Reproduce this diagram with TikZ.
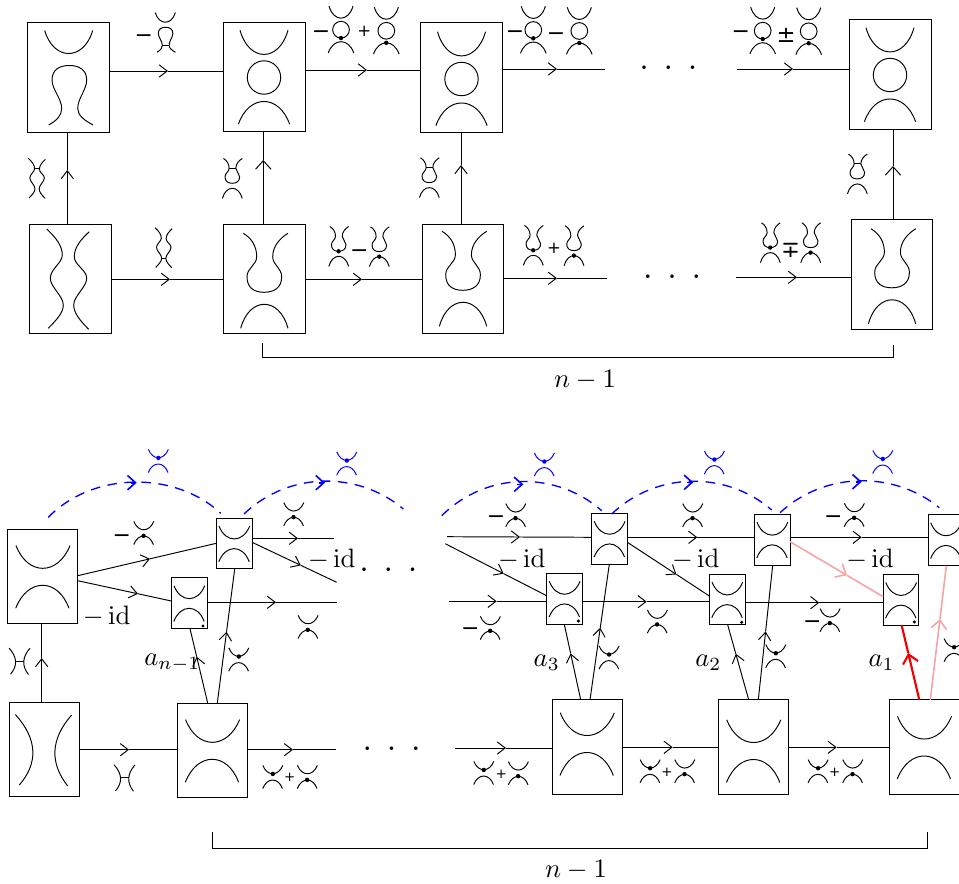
\documentclass[tikz,border=0pt]{standalone}
\usepackage{amsmath}
\usepackage[no-math]{fontspec}
\newfontfamily\glyphfont{DejaVu Sans}
\usetikzlibrary{arrows.meta,calc}
\newcommand\shpA{\draw (-24,-47) .. controls (-15,-16.3) and (15,-16.3) .. (24,-47);
  \draw (-20,47.5) .. controls (-12,43) and (-7,38) .. (-7,31) .. controls (-7,21) and (-16.7,12) .. (-16.7,2.5) .. controls (-16.7,-8) and (-9,-12) .. (0.6,-12) .. controls (10,-12) and (18,-8) .. (18,2.5) .. controls (18,12) and (9,21) .. (9,31) .. controls (9,38) and (16,43) .. (24.3,47.5);}
\newcommand\shpB{\draw (-24,-47.3) .. controls (-15,-15) and (15,-15) .. (24,-47.3);
  \draw (0,0) circle[radius=16.7];
  \draw (-25.6,46.7) .. controls (-15,16.4) and (15,16.4) .. (25.6,46.7);}
\newcommand\shpC{\draw (-21.6,-50) .. controls (-12,-41) and (-6,-33) .. (-6,-24) .. controls (-6,-16) and (-18,-10) .. (-18,-0.7) .. controls (-18,8) and (-5,17) .. (-5,26) .. controls (-5,34) and (-12,41) .. (-20,49.3);
  \draw (21,-47.3) .. controls (13,-40) and (6,-32) .. (6,-22.3) .. controls (6,-14) and (18.4,-9) .. (18.4,-0.7) .. controls (18.4,8) and (5.4,17) .. (5.4,26) .. controls (5.4,34) and (12,42) .. (20.4,50.3);}
\newcommand\shpD{\draw (-21,-45.7) .. controls (-13,-41) and (-7.6,-33) .. (-7.6,-22.3) .. controls (-7.6,-14) and (-17.3,-11) .. (-17.3,-2.3) .. controls (-17.3,9) and (-10,13.3) .. (-0.3,13.3) .. controls (9.5,13.3) and (17.4,9) .. (17.4,-2.3) .. controls (17.4,-11) and (8.4,-14) .. (8.4,-22.3) .. controls (8.4,-33) and (16,-41) .. (23.7,-45.7);
  \draw (-23.6,49.3) .. controls (-15,17.3) and (15,17.3) .. (23.7,49.3);}
\newcommand\shpE{\draw (-26.7,-30.7) .. controls (-15,-0.4) and (15,-0.4) .. (27.3,-30.7);
  \draw (-27,32) .. controls (-15,1.3) and (15,1.3) .. (26.3,32);}
\newcommand\shpF{\draw (-28.7,-35) .. controls (-6,-10) and (-6,14) .. (-24.7,35.5);
  \draw (27.7,-34.5) .. controls (6,-10) and (6,14) .. (23.7,36.5);}
\newcommand\mns{\raisebox{-.313em}[0pt][0pt]{\glyphfont\fontsize{8.2}{10}\selectfont −}}
\tikzset{
  gA/.pic={\shpA}, gB/.pic={\shpB}, gC/.pic={\shpC}, gD/.pic={\shpD}, gE/.pic={\shpE}, gF/.pic={\shpF},
  gAb/.pic={\shpA \draw (-7,31) -- (9,31);},
  gBc/.pic={\shpB \fill (0,16.7) circle[radius=4.4];},
  gBk/.pic={\shpB \fill (0,24) circle[radius=4.4];},
  gCu/.pic={\shpC \draw (-6,-24) -- (6,-24);},
  gCl/.pic={\shpC \draw (-5,26) -- (5.4,26);},
  gDb/.pic={\shpD \draw (-7.6,-22.3) -- (8.4,-22.3);},
  gDf/.pic={\shpD \fill (-0.3,13.3) circle[radius=5.2];},
  gDk/.pic={\shpD \fill (-0.3,25.3) circle[radius=5.2];},
  gEu/.pic={\shpE \fill (0.3,-7.5) circle[radius=6];},
  gEd/.pic={\shpE \fill (-0.5,8.5) circle[radius=6];},
  gFb/.pic={\shpF \draw (-11,0) -- (11,0);},
  bigbox/.style={draw,rectangle,inner sep=0pt,outer sep=0pt,minimum width=30.6pt,minimum height=41.2pt},
  midbox/.style={draw,rectangle,inner sep=0pt,outer sep=0pt,minimum width=26.25pt,minimum height=35.4pt},
  tinybox/.style={draw,rectangle,inner sep=0pt,outer sep=0pt,minimum width=13.4pt,minimum height=19.1pt},
  sgn/.style={inner sep=0pt},
  pmn/.style={inner sep=0pt,font=\glyphfont\fontsize{8.5}{10}\selectfont},
  pls/.style={inner sep=0pt,font=\glyphfont\fontsize{6.2}{7}\selectfont},
  plt/.style={inner sep=0pt,font=\glyphfont\fontsize{5}{6}\selectfont},
  txt/.style={inner sep=0pt},
  dts/.style={inner sep=0pt,anchor=base,font=\fontsize{8.5}{10}\selectfont\bfseries},
  >={Straight Barb[length=3pt,width=4.6pt]},
  bigtip/.style={>={Straight Barb[length=3.2pt,width=5.8pt]}},
  pinkline/.style={draw={rgb,255:red,245;green,165;blue,165},line width=.6pt,bigtip},
  redline/.style={draw={rgb,255:red,240;green,0;blue,0},line width=.8pt,bigtip},
  blueline/.style={blue,line width=.5pt,dash pattern=on 3.6pt off 2.8pt},
  bluetip/.style={blue,line width=.6pt,>={Straight Barb[length=3pt,width=5.4pt]}}
}
\newcommand\conn[4][]{%
  \path #2 coordinate (ca) #4 coordinate (cb);
  \coordinate (cm) at ($(ca)!(#3)!(cb)$);
  \draw[#1] (cm) -- (cb);
  \draw[#1,->] (ca) -- (cm);}
\newcommand\arc[3]{%
  \path ($#1+(45,0)$) coordinate (ka) ($#3+(-45,0)$) coordinate (kb);
  \draw[blueline] #1 .. controls (ka |- 0,471) and (kb |- 0,471) .. #3;
  \draw[bluetip,->] ($#2+(-6,0)$) -- #2;}
\newcommand\dotsrow[3]{\node[dts] (#1) at (#2,#3) {.\hspace{6.3pt}.\hspace{6.3pt}.};}
\begin{document}
\begin{tikzpicture}[x=0.375pt,y=-0.375pt,line width=.36pt]
\useasboundingbox (0,0) rectangle (959,884);
% ---------- upper figure
\node[bigbox] (A) at (68.7,77.5) {};
\node[bigbox] (B) at (264.3,77) {};
\node[bigbox] (C) at (461.5,77.5) {};
\node[bigbox] (D) at (890.5,74.5) {};
\node[bigbox] (E) at (70.2,279) {};
\node[bigbox] (F) at (264.3,279) {};
\node[bigbox] (G) at (463,279) {};
\node[bigbox] (H) at (892,274.5) {};
\pic at (A) {gA};
\pic at (264,77.5) {gB};
\pic at (461.5,79) {gB};
\pic at (890,75) {gB};
\pic at (68.3,279) {gC};
\pic at (F) {gD};
\pic at (463,277) {gD};
\pic at (892,274.5) {gD};
\coordinate (t1) at (605,69);
\coordinate (t2) at (737,69);
\coordinate (t3) at (607,278.3);
\coordinate (t4) at (736,277.3);
\conn{(A.east |- 0,71)}{168,71}{(B.west |- 0,71)}
\conn{(B.east |- 0,70)}{367,70}{(C.west |- 0,70)}
\conn{(C.east |- t1)}{557,69}{(t1)}
\conn{(t2)}{793,69}{(D.west |- t2)}
\conn{(E.east |- 0,279.3)}{170,279.3}{(F.west |- 0,279.3)}
\conn{(F.east |- 0,279.3)}{362,279.3}{(G.west |- 0,279.3)}
\conn{(G.east |- t3)}{557,278.3}{(t3)}
\conn{(t4)}{797,277.3}{(H.west |- t4)}
\conn{(E.north -| 67.3,0)}{67.3,170}{(A.south -| 67.3,0)}
\conn[bigtip]{(F.north -| 263.3,0)}{263.3,160}{(B.south -| 263.3,0)}
\conn{(G.north -| 461,0)}{461,165}{(C.south -| 461,0)}
\conn[bigtip]{(H.north -| 893,0)}{893,166}{(D.south -| 893,0)}
\coordinate (b1) at (262,343.3);
\coordinate (b2) at (893,345);
\draw (b1) -- (b1 |- 0,357.3) -- (b2 |- 0,357.3) -- (b2);
\node[txt] (n1) at (585,380) {$n-1$};
\dotsrow{d1}{668.3}{70}
\dotsrow{d2}{672}{279}
\node[sgn] (s1) at (143.7,34) {\mns};
\pic[scale=.42] at (165.3,32.3) {gAb};
\pic[scale=.4] at (37,178.3) {gCu};
\pic[scale=.4] at (163.7,247.7) {gCl};
\pic[scale=.42] at (232.3,177.7) {gDb};
\pic[scale=.42] at (429.3,177) {gDb};
\pic[scale=.42] at (857.3,173.3) {gDb};
\node[sgn] (s2) at (321,30.3) {\mns};
\pic[scale=.5] at (341,29.7) {gBc};
\node[pls] (s3) at (364.3,31.3) {+};
\pic[scale=.5] at (386.3,30.8) {gBk};
\node[sgn] (s4) at (515,30.3) {\mns};
\pic[scale=.5] at (533.3,30) {gBc};
\node[sgn] (s5) at (556,31.7) {\mns};
\pic[scale=.5] at (579.3,31) {gBk};
\node[sgn] (s6) at (740.7,30.3) {\mns};
\pic[scale=.5] at (762.7,30.7) {gBc};
\node[pmn] (s7) at (786,35) {±};
\pic[scale=.5] at (808.7,31.3) {gBk};
\pic[scale=.42] at (338.7,245.7) {gDf};
\node[sgn] (s8) at (359.3,249) {\mns};
\pic[scale=.42] at (379.3,246) {gDk};
\pic[scale=.42] at (533.3,244.7) {gDf};
\node[pls] (s9) at (554,248) {+};
\pic[scale=.42] at (574,245) {gDk};
\pic[scale=.42] at (770.3,242) {gDf};
\node[pmn] (s10) at (790.7,250) {∓};
\pic[scale=.42] at (810.7,242) {gDk};
% ---------- lower figure
\node[midbox] (P1) at (42.7,576.3) {};
\node[midbox] (P2) at (44,749.5) {};
\node[midbox] (Q1) at (212.3,750.3) {};
\node[midbox] (Q2) at (587,747) {};
\node[midbox] (Q3) at (753.5,747) {};
\node[midbox] (Q4) at (924.2,747) {};
\node[tinybox] (S1) at (234.2,543.5) {};
\node[tinybox] (S2) at (189.2,603.2) {};
\node[tinybox] (S3) at (609.5,538.8) {};
\node[tinybox] (S4) at (564.5,598.8) {};
\node[tinybox] (S5) at (772.2,539.7) {};
\node[tinybox] (S6) at (727.2,599.5) {};
\node[tinybox] (S7) at (946,540.3) {};
\node[tinybox] (S8) at (901,600) {};
\pic at (P1) {gE};
\pic at (P2) {gF};
\pic at (Q1) {gE};
\pic at (587,743.5) {gE};
\pic at (753.5,750.5) {gE};
\pic at (924.2,747) {gE};
\foreach \s in {S1,S2,S3,S4,S5,S6,S7,S8} {\pic[scale=.57] at (\s) {gE};}
\fill (203,626) circle[radius=1.7];
\fill (578.3,621) circle[radius=1.7];
\fill (741.7,622.3) circle[radius=1.7];
\fill (914.3,622) circle[radius=1.7];
\coordinate (f1) at (333.7,538.3);
\coordinate (f2) at (336.7,582.3);
\coordinate (f3) at (337,602.3);
\coordinate (f4) at (336,749.7);
\coordinate (f5) at (447,536.7);
\coordinate (f6) at (445.3,543.7);
\coordinate (f7) at (448.7,601.3);
\coordinate (f8) at (455,748);
\conn{(P2.north -| 41.7,0)}{41.7,658}{(P1.south -| 41.7,0)}
\conn{(P2.east |- f4)}{129,749.7}{(Q1.west |- f4)}
\conn{(P1.east |- 0,575.7)}{150,558.7}{(S1.west |- 0,543.3)}
\conn{(P1.east |- 0,580.7)}{138,593.7}{(S2.west |- 0,601)}
\conn{(S1.east |- f1)}{298,538.3}{(f1)}
\conn{(S1.east |- 0,542.3)}{301,565}{(f2)}
\conn{(S2.east |- f3)}{276,602.3}{(f3)}
\conn{(Q1.north -| 207.7,0)}{196.7,656.7}{(S2.south -| 190,0)}
\conn{(Q1.north -| 217.3,0)}{226.3,631.7}{(S1.south -| 234.7,0)}
\conn{(Q1.east |- f4)}{293,749.7}{(f4)}
\conn{(f5)}{520,537}{(S3.west |- 0,537.3)}
\conn{(f6)}{503.3,574.3}{(S4.west |- 0,595.7)}
\conn{(f7)}{496.7,601.3}{(S4.west |- f7)}
\conn{(S3.east |- 0,537.3)}{697.3,537.3}{(S5.west |- 0,537.3)}
\conn{(S3.east |- 0,542.3)}{676,575}{(S6.west |- 0,596)}
\conn{(S4.east |- 0,601.7)}{646.7,601.7}{(S6.west |- 0,601.7)}
\conn{(Q2.north -| 580.7,0)}{571,653.3}{(S4.south -| 564.3,0)}
\conn{(Q2.north -| 590,0)}{600,627.7}{(S3.south -| 609.3,0)}
\conn{(f8)}{506,748}{(Q2.west |- f8)}
\conn{(Q2.east |- 0,747.3)}{672.7,747.3}{(Q3.west |- 0,747.3)}
\conn{(Q3.east |- 0,747.3)}{836.7,747.3}{(Q4.west |- 0,747.3)}
\conn{(S5.east |- 0,537.3)}{861.7,537.3}{(S7.west |- 0,537.3)}
\conn[pinkline]{(S5.east |- 0,541.7)}{846.7,575.7}{(S8.west |- 0,596.7)}
\conn{(S6.east |- 0,602.7)}{819.3,602.7}{(S8.west |- 0,602.7)}
\conn{(Q3.north -| 748.7,0)}{737.7,653.3}{(S6.south -| 727.7,0)}
\conn{(Q3.north -| 758.3,0)}{767.3,631.7}{(S5.south -| 772.7,0)}
\conn[redline]{(Q4.north -| 919.3,0)}{906.7,653.3}{(S8.south -| 901.7,0)}
\conn[pinkline]{(Q4.north -| 930.3,0)}{940,619}{(S7.south -| 946.3,0)}
% dashed arcs
\coordinate (c1) at (48.3,517.3);
\coordinate (c2) at (220.7,513.3);
\coordinate (c3) at (244,514);
\coordinate (c4) at (403.3,509);
\coordinate (c5) at (441.7,515.7);
\coordinate (c6) at (601.7,510.7);
\coordinate (c7) at (611.7,514);
\coordinate (c8) at (771.7,510);
\coordinate (c9) at (780,512.7);
\coordinate (c10) at (939.3,507.7);
\arc{(c1)}{(136.7,482.7)}{(c2)}
\arc{(c3)}{(325,482.7)}{(c4)}
\arc{(c5)}{(523.3,484.3)}{(c6)}
\arc{(c7)}{(693.3,482.3)}{(c8)}
\arc{(c9)}{(861.7,481.7)}{(c10)}
\begin{scope}[blue]
\pic[scale=.37] at (158.3,460.7) {gEu};
\pic[scale=.37] at (346.7,463.3) {gEu};
\pic[scale=.37] at (544.3,464.3) {gEu};
\pic[scale=.37] at (714.3,462.3) {gEu};
\pic[scale=.37] at (882.7,461.7) {gEu};
\end{scope}
\coordinate (b3) at (212,832);
\coordinate (b4) at (927,832);
\draw (b3) -- (b3 |- 0,848) -- (b4 |- 0,848) -- (b4);
\node[txt] (n2) at (576,870) {$n-1$};
\dotsrow{d3}{388.3}{571}
\dotsrow{d4}{391.7}{750.5}
% small labels
\pic[scale=.37] at (19.7,661) {gFb};
\pic[scale=.37] at (124.7,777.7) {gFb};
\node[sgn] (m1) at (121.7,534.3) {\mns};
\pic[scale=.37] at (143.7,532.7) {gEd};
\pic[scale=.37] at (293.7,514) {gEd};
\pic[scale=.37] at (308,626.7) {gEd};
\pic[scale=.37] at (238.7,659.3) {gEu};
\pic[scale=.37] at (272.7,776.7) {gEu};
\node[plt] (m2) at (289.7,777.7) {+};
\pic[scale=.37] at (307.3,776.7) {gEd};
\node[sgn] (m3) at (496,515.3) {\mns};
\pic[scale=.37] at (515.7,515) {gEd};
\node[sgn] (m4) at (470.3,626.7) {\mns};
\pic[scale=.37] at (490.3,627.7) {gEd};
\pic[scale=.37] at (609,657.3) {gEu};
\pic[scale=.37] at (657.3,621.3) {gEd};
\pic[scale=.37] at (692.7,515) {gEd};
\pic[scale=.37] at (483.7,772.7) {gEu};
\node[plt] (m5) at (501.3,774) {+};
\pic[scale=.37] at (518.3,773) {gEd};
\pic[scale=.37] at (650,771) {gEu};
\node[plt] (m6) at (667,772.7) {+};
\pic[scale=.37] at (684.7,771) {gEd};
\pic[scale=.37] at (775.7,656) {gEu};
\node[sgn] (m7) at (833.3,514.7) {\mns};
\pic[scale=.37] at (854.3,514.7) {gEd};
\node[sgn] (m8) at (812.3,620) {\mns};
\pic[scale=.37] at (830,620) {gEd};
\pic[scale=.37] at (818,771) {gEu};
\node[plt] (m9) at (834.7,772.7) {+};
\pic[scale=.37] at (852.7,771) {gEd};
\pic[scale=.37] at (954,650) {gEu};
\node[txt] (i1) at (106.7,616.7) {$-\,\mathrm{id}$};
\node[txt] (i2) at (331.7,559.3) {$-\,\mathrm{id}$};
\node[txt] (i3) at (521.7,559.3) {$-\,\mathrm{id}$};
\node[txt] (i4) at (695.7,559.3) {$-\,\mathrm{id}$};
\node[txt] (i5) at (870,559.3) {$-\,\mathrm{id}$};
\node[txt] (l1) at (172.3,663) {$a_{n-1}$};
\node[txt] (l2) at (546.7,663) {$a_3$};
\node[txt] (l3) at (708.3,663) {$a_2$};
\node[txt] (l4) at (881.6,663) {$a_1$};
\end{tikzpicture}
\end{document}
